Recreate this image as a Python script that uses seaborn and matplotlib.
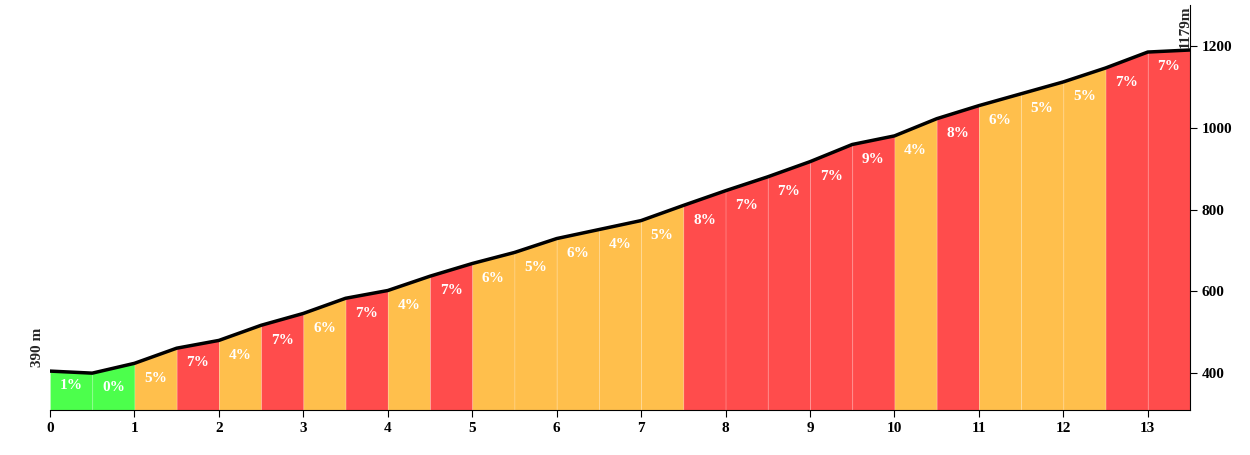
import numpy as np
import pandas as pd
import seaborn as sns
import matplotlib.pyplot as plt

# elevation profile, sampled every 0.5 km
distance_km = [0, 0.5, 1, 1.5, 2, 2.5, 3, 3.5, 4, 4.5, 5, 5.5, 6, 6.5, 7,
               7.5, 8, 8.5, 9, 9.5, 10, 10.5, 11, 11.5, 12, 12.5, 13, 13.5]
elevation_m = [405, 400, 424, 461, 480, 517, 546, 583, 602, 637, 668, 695, 729, 751, 773,
               810, 846, 880, 917, 959, 980, 1022, 1054, 1083, 1112, 1146, 1185, 1190]
gradient_pct = [1, 0, 5, 7, 4, 7, 6, 7, 4, 7, 6, 5, 6, 4, 5,
                8, 7, 7, 7, 9, 4, 8, 6, 5, 5, 7, 7]
start_label = "390 m"
end_label = "1179m"

sns.set_style("white")
plt.rcParams['font.family'] = ['Liberation Serif', 'DejaVu Serif']

def grade_color(g):
    if g <= 2:
        return "#4cff4c"
    if g <= 6:
        return "#ffbf4c"
    return "#ff4c4c"

fig = plt.figure(figsize=(12.5, 4.55), dpi=100)
ax = fig.add_axes([0.04, 0.099, 0.912, 0.89])
ymin, ymax = 310, 1300

for i, g in enumerate(gradient_pct):
    xs = distance_km[i:i + 2]
    ys = elevation_m[i:i + 2]
    ax.fill_between(xs, ys, ymin, color=grade_color(g), lw=0.6, edgecolor="#ffffff30")
    ax.text((xs[0] + xs[1]) / 2, ys[0] - 36, f"{g}%", color="white", fontweight="bold",
            fontsize=11, ha="center", va="center")

df = pd.DataFrame({"km": distance_km, "ele": elevation_m})
sns.lineplot(data=df, x="km", y="ele", color="black", lw=2.5, ax=ax)

ax.set_xlim(0, 13.5)
ax.set_ylim(ymin, ymax)
ax.set_xticks(range(0, 14))
ax.set_yticks(range(400, 1201, 200))
ax.yaxis.tick_right()
ax.set_xlabel("")
ax.set_ylabel("")
ax.spines[['top', 'left']].set_visible(False)
for s in ['bottom', 'right']:
    ax.spines[s].set_color("black")
ax.tick_params(axis='both', length=5, direction='out', colors='black', labelsize=11)
ax.tick_params(axis='y', right=True, left=False)
ax.tick_params(axis='x', bottom=True)
for lbl in ax.get_xticklabels() + ax.get_yticklabels():
    lbl.set_fontweight("bold")

ax.text(-0.15, elevation_m[0] + 10, start_label, rotation=90, ha="center", va="bottom",
        fontsize=11, fontweight="bold")
ax.text(13.44, ymax, end_label, rotation=90, ha="center", va="top",
        fontsize=11, fontweight="bold", clip_on=False)

fig.savefig("out.png", dpi=100)
